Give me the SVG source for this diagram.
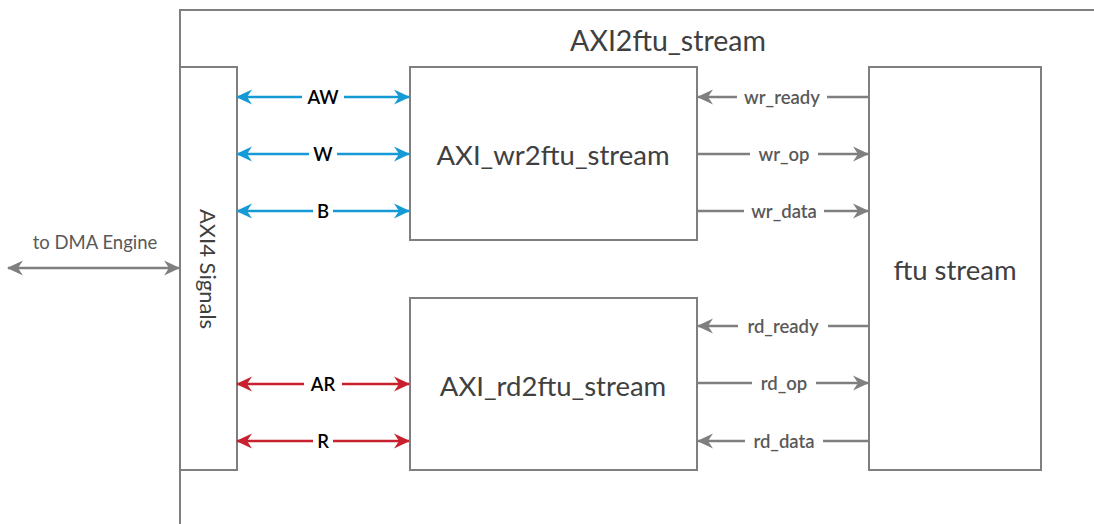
<svg xmlns="http://www.w3.org/2000/svg" width="1094" height="524" viewBox="0 0 1094 524">
  <style>
    .box { fill: #ffffff; stroke: #7f7f7f; stroke-width: 2; }
    .frame { fill: none; stroke: #7f7f7f; stroke-width: 2; }
    .big { font-family: Lato, "Liberation Sans", sans-serif; font-size: 27.5px; fill: #404040; text-anchor: middle; }
    .sig { font-family: Lato, "Liberation Sans", sans-serif; font-size: 18.5px; font-weight: 600; text-anchor: middle; dominant-baseline: central; }
    .blk { fill: #000000; }
    .gry { fill: #595959; }
    .blue { stroke: #159ad6; stroke-width: 2.5; fill: none; }
    .red { stroke: #c8202f; stroke-width: 2.5; fill: none; }
    .gray { stroke: #7f7f7f; stroke-width: 2.5; fill: none; }
    .lblbg { fill: #ffffff; }
  </style>
  <defs>
    <marker id="hBlue" viewBox="0 0 16 16" refX="15" refY="8" markerWidth="16" markerHeight="16" markerUnits="userSpaceOnUse" orient="auto-start-reverse">
      <path d="M0,0.5 L16,8 L0,15.5 L5,8 Z" fill="#159ad6"/>
    </marker>
    <marker id="hRed" viewBox="0 0 16 16" refX="15" refY="8" markerWidth="16" markerHeight="16" markerUnits="userSpaceOnUse" orient="auto-start-reverse">
      <path d="M0,0.5 L16,8 L0,15.5 L5,8 Z" fill="#c8202f"/>
    </marker>
    <marker id="hGray" viewBox="0 0 16 16" refX="15" refY="8" markerWidth="16" markerHeight="16" markerUnits="userSpaceOnUse" orient="auto-start-reverse">
      <path d="M0,0.5 L16,8 L0,15.5 L5,8 Z" fill="#7f7f7f"/>
    </marker>
  </defs>

  <!-- enclosing module frame -->
  <g id="frame">
    <path class="frame" d="M180,524 L180,10 L1094,10"/>
    <text class="big" x="668" y="51" style="font-size:28.5px">AXI2ftu_stream</text>
  </g>

  <g id="axi4-signals">
    <rect class="box" x="180" y="67" width="57" height="403"/>
    <text x="208" y="269" transform="rotate(90 208 269)" font-family="Lato, 'Liberation Sans', sans-serif" font-size="22" fill="#404040" text-anchor="middle" dominant-baseline="central">AXI4 Signals</text>
  </g>

  <g id="axi-wr2ftu-stream">
    <rect class="box" x="410" y="67" width="287" height="173"/>
    <text class="big" x="553" y="165">AXI_wr2ftu_stream</text>
  </g>

  <g id="axi-rd2ftu-stream">
    <rect class="box" x="410" y="298" width="287" height="172"/>
    <text class="big" x="553" y="396">AXI_rd2ftu_stream</text>
  </g>

  <g id="ftu-stream">
    <rect class="box" x="869" y="67" width="172" height="403"/>
    <text class="big" x="955" y="280">ftu stream</text>
  </g>

  <g id="connectors">
    <!-- external link -->
    <line class="gray" x1="8" y1="268" x2="179" y2="268" marker-start="url(#hGray)" marker-end="url(#hGray)"/>
    <text x="95" y="242" font-family="Lato, 'Liberation Sans', sans-serif" font-size="18.5" fill="#595959" text-anchor="middle" dominant-baseline="central">to DMA Engine</text>

    <!-- write channels -->
    <line class="blue" x1="237" y1="97" x2="409" y2="97" marker-start="url(#hBlue)" marker-end="url(#hBlue)"/>
    <line class="blue" x1="237" y1="154" x2="409" y2="154" marker-start="url(#hBlue)" marker-end="url(#hBlue)"/>
    <line class="blue" x1="237" y1="211" x2="409" y2="211" marker-start="url(#hBlue)" marker-end="url(#hBlue)"/>
    <!-- read channels -->
    <line class="red" x1="237" y1="384" x2="409" y2="384" marker-start="url(#hRed)" marker-end="url(#hRed)"/>
    <line class="red" x1="237" y1="441" x2="409" y2="441" marker-start="url(#hRed)" marker-end="url(#hRed)"/>

    <rect class="lblbg" x="302" y="86" width="42" height="22"/>
    <text class="sig blk" x="323" y="97">AW</text>
    <rect class="lblbg" x="309" y="143" width="28" height="22"/>
    <text class="sig blk" x="323" y="154">W</text>
    <rect class="lblbg" x="313" y="200" width="20" height="22"/>
    <text class="sig blk" x="323" y="211">B</text>
    <rect class="lblbg" x="304" y="373" width="38" height="22"/>
    <text class="sig blk" x="323" y="384">AR</text>
    <rect class="lblbg" x="313" y="430" width="20" height="22"/>
    <text class="sig blk" x="323" y="441">R</text>

    <!-- ftu stream side -->
    <line class="gray" x1="868" y1="97" x2="698" y2="97" marker-end="url(#hGray)"/>
    <line class="gray" x1="698" y1="154" x2="868" y2="154" marker-end="url(#hGray)"/>
    <line class="gray" x1="698" y1="211" x2="868" y2="211" marker-end="url(#hGray)"/>
    <line class="gray" x1="868" y1="326" x2="698" y2="326" marker-end="url(#hGray)"/>
    <line class="gray" x1="698" y1="383" x2="868" y2="383" marker-end="url(#hGray)"/>
    <line class="gray" x1="868" y1="441" x2="698" y2="441" marker-end="url(#hGray)"/>

    <rect class="lblbg" x="737" y="86" width="90" height="22"/>
    <text class="sig gry" x="782" y="97">wr_ready</text>
    <rect class="lblbg" x="750" y="143" width="68" height="22"/>
    <text class="sig gry" x="784" y="154">wr_op</text>
    <rect class="lblbg" x="744" y="200" width="80" height="22"/>
    <text class="sig gry" x="784" y="211">wr_data</text>
    <rect class="lblbg" x="738" y="315" width="90" height="22"/>
    <text class="sig gry" x="783" y="326">rd_ready</text>
    <rect class="lblbg" x="752" y="372" width="64" height="22"/>
    <text class="sig gry" x="784" y="383">rd_op</text>
    <rect class="lblbg" x="745" y="430" width="78" height="22"/>
    <text class="sig gry" x="784" y="441">rd_data</text>
  </g>
</svg>
